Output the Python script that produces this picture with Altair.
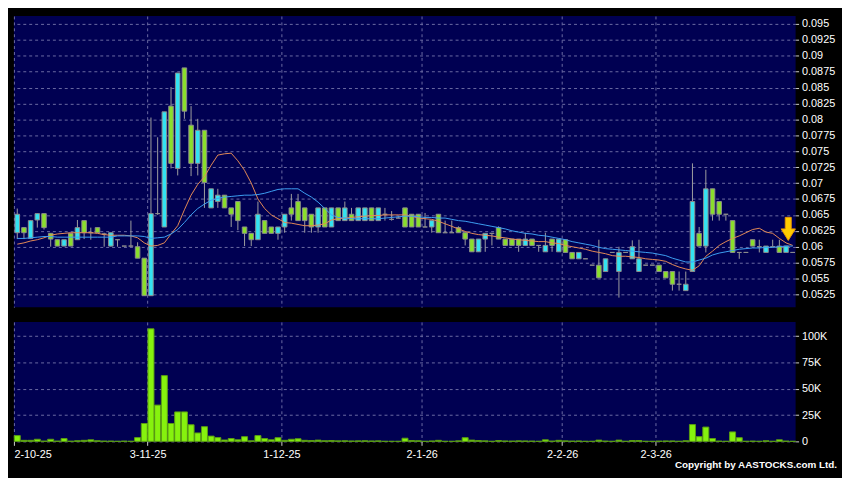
import altair as alt
import pandas as pd

# ---- candle data ----
opens = [0.0622, 0.0630, 0.0613, 0.0642, 0.0652, 0.0621, 0.0611, 0.0601, 0.0621, 0.0611,
         0.0641, 0.0622, 0.0630, 0.0620, 0.0601, 0.0611, 0.0601, 0.0601, 0.0600, 0.0582,
         0.0523, 0.0652, 0.0631, 0.0821, 0.0723, 0.0881, 0.0791, 0.0731, 0.0783, 0.0661,
         0.0671, 0.0681, 0.0661, 0.0671, 0.0631, 0.0621, 0.0611, 0.0641, 0.0631, 0.0621,
         0.0631, 0.0661, 0.0671, 0.0661, 0.0651, 0.0631, 0.0661, 0.0631, 0.0661, 0.0641,
         0.0651, 0.0641, 0.0641, 0.0661, 0.0641, 0.0651, 0.0643, 0.0645, 0.0661, 0.0651,
         0.0651, 0.0631, 0.0631, 0.0651, 0.0622, 0.0622, 0.0630, 0.0622, 0.0612, 0.0592,
         0.0612, 0.0621, 0.0630, 0.0612, 0.0612, 0.0612, 0.0602, 0.0612, 0.0602, 0.0592,
         0.0612, 0.0592, 0.0611, 0.0591, 0.0581, 0.0581, 0.0571, 0.0571, 0.0561, 0.0591,
         0.0561, 0.0591, 0.0581, 0.0561, 0.0571, 0.0571, 0.0571, 0.0561, 0.0561, 0.0541,
         0.0531, 0.0561, 0.0621, 0.0601, 0.0691, 0.0671, 0.0651, 0.0641, 0.0591, 0.0591,
         0.0611, 0.0600, 0.0591, 0.0600, 0.0601, 0.0591, 0.0591]
highs = [0.0660, 0.0631, 0.0642, 0.0652, 0.0652, 0.0621, 0.0611, 0.0611, 0.0621, 0.0642,
         0.0641, 0.0630, 0.0630, 0.0622, 0.0622, 0.0612, 0.0601, 0.0641, 0.0607, 0.0582,
         0.0803, 0.0772, 0.0812, 0.0851, 0.0873, 0.0881, 0.0821, 0.0801, 0.0783, 0.0691,
         0.0691, 0.0681, 0.0661, 0.0671, 0.0631, 0.0621, 0.0671, 0.0641, 0.0631, 0.0631,
         0.0651, 0.0683, 0.0683, 0.0661, 0.0651, 0.0661, 0.0661, 0.0661, 0.0661, 0.0671,
         0.0661, 0.0661, 0.0661, 0.0661, 0.0661, 0.0661, 0.0656, 0.0648, 0.0661, 0.0651,
         0.0651, 0.0653, 0.0641, 0.0651, 0.0641, 0.0641, 0.0632, 0.0622, 0.0612, 0.0612,
         0.0621, 0.0621, 0.0632, 0.0612, 0.0612, 0.0612, 0.0622, 0.0612, 0.0602, 0.0622,
         0.0612, 0.0612, 0.0611, 0.0591, 0.0591, 0.0581, 0.0571, 0.0611, 0.0581, 0.0591,
         0.0600, 0.0591, 0.0610, 0.0611, 0.0571, 0.0571, 0.0571, 0.0561, 0.0561, 0.0561,
         0.0561, 0.0731, 0.0631, 0.0721, 0.0691, 0.0671, 0.0651, 0.0641, 0.0591, 0.0591,
         0.0611, 0.0611, 0.0601, 0.0611, 0.0611, 0.0601, 0.0591]
lows = [0.0612, 0.0612, 0.0612, 0.0630, 0.0627, 0.0600, 0.0601, 0.0601, 0.0601, 0.0611,
        0.0612, 0.0611, 0.0622, 0.0600, 0.0600, 0.0600, 0.0601, 0.0600, 0.0582, 0.0523,
        0.0523, 0.0650, 0.0631, 0.0723, 0.0712, 0.0801, 0.0711, 0.0712, 0.0661, 0.0661,
        0.0661, 0.0661, 0.0631, 0.0626, 0.0601, 0.0601, 0.0611, 0.0621, 0.0621, 0.0611,
        0.0622, 0.0641, 0.0641, 0.0622, 0.0622, 0.0622, 0.0631, 0.0631, 0.0641, 0.0641,
        0.0641, 0.0641, 0.0641, 0.0641, 0.0641, 0.0641, 0.0641, 0.0645, 0.0631, 0.0631,
        0.0631, 0.0631, 0.0622, 0.0622, 0.0622, 0.0622, 0.0622, 0.0602, 0.0592, 0.0592,
        0.0592, 0.0602, 0.0612, 0.0602, 0.0602, 0.0592, 0.0602, 0.0602, 0.0592, 0.0592,
        0.0592, 0.0592, 0.0591, 0.0581, 0.0581, 0.0581, 0.0571, 0.0551, 0.0561, 0.0591,
        0.0520, 0.0591, 0.0581, 0.0561, 0.0571, 0.0571, 0.0561, 0.0551, 0.0531, 0.0531,
        0.0531, 0.0561, 0.0601, 0.0591, 0.0641, 0.0641, 0.0641, 0.0591, 0.0581, 0.0591,
        0.0601, 0.0591, 0.0591, 0.0600, 0.0591, 0.0591, 0.0591]
closes = [0.0651, 0.0622, 0.0641, 0.0652, 0.0630, 0.0612, 0.0601, 0.0611, 0.0601, 0.0630,
          0.0622, 0.0622, 0.0622, 0.0620, 0.0622, 0.0611, 0.0601, 0.0601, 0.0582, 0.0523,
          0.0652, 0.0652, 0.0812, 0.0731, 0.0873, 0.0813, 0.0731, 0.0783, 0.0701, 0.0691,
          0.0681, 0.0661, 0.0651, 0.0641, 0.0621, 0.0611, 0.0651, 0.0621, 0.0621, 0.0631,
          0.0651, 0.0651, 0.0641, 0.0641, 0.0631, 0.0661, 0.0631, 0.0661, 0.0641, 0.0661,
          0.0641, 0.0661, 0.0661, 0.0641, 0.0661, 0.0651, 0.0643, 0.0645, 0.0631, 0.0631,
          0.0631, 0.0631, 0.0641, 0.0622, 0.0622, 0.0622, 0.0622, 0.0612, 0.0592, 0.0612,
          0.0621, 0.0621, 0.0612, 0.0602, 0.0602, 0.0602, 0.0612, 0.0602, 0.0602, 0.0602,
          0.0602, 0.0612, 0.0591, 0.0581, 0.0591, 0.0581, 0.0571, 0.0551, 0.0581, 0.0591,
          0.0591, 0.0591, 0.0600, 0.0581, 0.0571, 0.0571, 0.0561, 0.0551, 0.0541, 0.0541,
          0.0541, 0.0671, 0.0601, 0.0691, 0.0651, 0.0651, 0.0651, 0.0591, 0.0591, 0.0591,
          0.0601, 0.0600, 0.0601, 0.0600, 0.0591, 0.0601, 0.0591]
volumes_k = [5.5, 1.0, 1.0, 2.0, 0.3, 2.0, 0.3, 2.7, 0.2, 0.6,
             1.0, 1.5, 0.6, 0.3, 0.3, 0.1, 0.3, 0.1, 3.6, 17,
             107, 34.5, 62.5, 17, 28, 28, 15.8, 8, 14, 5,
             3.6, 1.3, 2.7, 1.5, 4.5, 0.5, 5.5, 2.7, 1.5, 3.5,
             1.0, 2.0, 2.5, 1.0, 0.8, 1.2, 0.6, 0.8, 0.5, 0.6,
             0.4, 0.5, 0.6, 0.4, 0.5, 0.1, 0.1, 0.1, 3.0, 0.8,
             0.6, 0.1, 0.4, 1.0, 0.1, 0.1, 0.5, 3.5, 1.2, 0.8,
             0.5, 0.1, 0.8, 0.4, 0.3, 0.5, 0.4, 0.3, 0.1, 1.5,
             0.3, 1.0, 0.5, 0.3, 0.4, 0.1, 0.1, 1.2, 0.3, 0.1,
             1.2, 0.1, 0.8, 0.8, 0.1, 0.1, 0.3, 0.4, 0.4, 0.1,
             0.6, 16, 4.5, 13.6, 2.7, 0.3, 0.1, 9, 3.5, 0.1,
             0.3, 0.1, 0.6, 0.1, 1.5, 0.3, 0.1]
ma10 = [0.0604, 0.0606, 0.0609, 0.0611, 0.0614, 0.0618, 0.0620, 0.0621, 0.0622, 0.0622,
        0.0622, 0.0622, 0.0621, 0.0619, 0.0618, 0.0618, 0.0618, 0.0617, 0.0614, 0.0606,
        0.0601, 0.0602, 0.0606, 0.0620, 0.0633, 0.0658, 0.0681, 0.0698, 0.0710, 0.0728,
        0.0744, 0.0746, 0.0747, 0.0735, 0.0720, 0.0700, 0.0675, 0.0660, 0.0650, 0.0644,
        0.0638, 0.0637, 0.0635, 0.0633, 0.0633, 0.0634, 0.0636, 0.0642, 0.0644, 0.0645,
        0.0646, 0.0647, 0.0648, 0.0649, 0.0649, 0.0650, 0.0650, 0.0650, 0.0650, 0.0648,
        0.0645, 0.0644, 0.0643, 0.0640, 0.0636, 0.0632, 0.0628, 0.0624, 0.0621, 0.0619,
        0.0618, 0.0617, 0.0615, 0.0614, 0.0612, 0.0611, 0.0610, 0.0609, 0.0608, 0.0608,
        0.0606, 0.0605, 0.0602, 0.0600, 0.0598, 0.0596, 0.0593, 0.0591, 0.0589, 0.0586,
        0.0585, 0.0585, 0.0584, 0.0583, 0.0581, 0.0580, 0.0579, 0.0577, 0.0572, 0.0568,
        0.0565, 0.0563, 0.0570, 0.0585, 0.0593, 0.0602, 0.0608, 0.0613, 0.0617, 0.0622,
        0.0627, 0.0629, 0.0623, 0.0621, 0.0613, 0.0606, 0.0602]
ma20 = [0.0613, 0.0613, 0.0614, 0.0615, 0.0616, 0.0616, 0.0615, 0.0615, 0.0615, 0.0615,
        0.0615, 0.0615, 0.0615, 0.0615, 0.0615, 0.0617, 0.0617, 0.0617, 0.0617, 0.0616,
        0.0613, 0.0614, 0.0615, 0.0620, 0.0627, 0.0638, 0.0650, 0.0660, 0.0667, 0.0673,
        0.0676, 0.0678, 0.0679, 0.0680, 0.0681, 0.0681, 0.0682, 0.0684, 0.0687, 0.0690,
        0.0691, 0.0691, 0.0691, 0.0684, 0.0678, 0.0670, 0.0660, 0.0650, 0.0646, 0.0645,
        0.0644, 0.0644, 0.0644, 0.0644, 0.0644, 0.0645, 0.0646, 0.0647, 0.0648, 0.0648,
        0.0647, 0.0646, 0.0646, 0.0645, 0.0645, 0.0643, 0.0641, 0.0640, 0.0638, 0.0636,
        0.0634, 0.0632, 0.0630, 0.0628, 0.0625, 0.0623, 0.0621, 0.0620, 0.0618, 0.0617,
        0.0615, 0.0613, 0.0611, 0.0608, 0.0606, 0.0604, 0.0602, 0.0599, 0.0597, 0.0596,
        0.0595, 0.0594, 0.0593, 0.0592, 0.0591, 0.0590, 0.0588, 0.0586, 0.0582, 0.0579,
        0.0576, 0.0576, 0.0579, 0.0582, 0.0587, 0.0590, 0.0592, 0.0594, 0.0596, 0.0597,
        0.0598, 0.0598, 0.0599, 0.0599, 0.0600, 0.0601, 0.0601]

tick_pos = [-0.5, 19.5, 39.5, 60.5, 81.5, 95.5]
tick_labels = ["2-10-25", "3-11-25", "1-12-25", "2-1-26", "2-2-26", "2-3-26"]
price_ticks = [0.0525, 0.055, 0.0575, 0.06, 0.0625, 0.065, 0.0675, 0.07, 0.0725,
               0.075, 0.0775, 0.08, 0.0825, 0.085, 0.0875, 0.09, 0.0925, 0.095]
volume_ticks = [0, 25000, 50000, 75000, 100000]
arrow_x = [115.33]
arrow_y = [0.0628]
copyright_text = ["Copyright by AASTOCKS.com Ltd."]

n = len(opens)
df = pd.DataFrame({
    "i": list(range(n)), "open": opens, "high": highs, "low": lows, "close": closes,
    "vol": [v * 1000 for v in volumes_k], "ma10": ma10, "ma20": ma20,
})
df["dir"] = ["up" if c > o else ("down" if c < o else "flat") for o, c in zip(opens, closes)]

FONT = "Liberation Sans"
GRID = "#6c6ca4"
W = 792
xs = alt.Scale(domain=[-0.5, 116.43], nice=False, zero=False)
ys = alt.Scale(domain=[0.0505, 0.09626], nice=False, zero=False)

x_grid_axis = alt.Axis(values=tick_pos, labels=False, ticks=False, domain=False, grid=True,
                       gridColor=GRID, gridDash=[3, 3], title=None)
y_price_axis = alt.Axis(orient="right", values=price_ticks, format=".4~f", title=None, grid=True,
                        gridColor=GRID, gridDash=[3, 3], domain=False, tickColor="#d0d0d0",
                        tickSize=3, labelPadding=3, labelColor="#ffffff", labelFont=FONT,
                        labelFontSize=11)

base = alt.Chart(df)
wicks = base.mark_rule(color="#a0a0a0", strokeWidth=1).encode(
    x=alt.X("i:Q", scale=xs, axis=x_grid_axis),
    y=alt.Y("low:Q", scale=ys, axis=y_price_axis),
    y2="high:Q",
)
bodies = base.mark_rect(stroke="#8c8c8c", strokeWidth=1).transform_calculate(
    x0="datum.i - 0.34", x1="datum.i + 0.34"
).encode(
    x=alt.X("x0:Q", scale=xs, axis=x_grid_axis), x2="x1:Q",
    y=alt.Y("open:Q", scale=ys, axis=y_price_axis), y2="close:Q",
    fill=alt.Fill("dir:N", scale=alt.Scale(domain=["up", "down", "flat"],
                                           range=["#33e2f2", "#8ade2c", "#9a9a9a"]),
                  legend=None),
)
line10 = base.mark_line(color="#e58a55", strokeWidth=1).encode(
    x=alt.X("i:Q", scale=xs, axis=x_grid_axis), y=alt.Y("ma10:Q", scale=ys, axis=y_price_axis))
line20 = base.mark_line(color="#3d9ff2", strokeWidth=1).encode(
    x=alt.X("i:Q", scale=xs, axis=x_grid_axis), y=alt.Y("ma20:Q", scale=ys, axis=y_price_axis))
arrow = alt.Chart(pd.DataFrame({"x": arrow_x, "y": arrow_y})).mark_point(
    shape="M -0.26 -1 L 0.26 -1 L 0.26 0 L 0.62 0 L 0 1 L -0.62 0 L -0.26 0 Z",
    size=545, filled=True, fill="#ffcc00", stroke="#e69500", strokeWidth=1, opacity=1,
).encode(x=alt.X("x:Q", scale=xs, axis=x_grid_axis), y=alt.Y("y:Q", scale=ys, axis=y_price_axis))

top = alt.layer(wicks, bodies, line10, line20, arrow).properties(width=W, height=295)

label_expr = " : ".join(f"datum.value == {p} ? '{l}'" for p, l in zip(tick_pos, tick_labels)) + " : ''"
vs = alt.Scale(domain=[0, 113500], nice=False, zero=True)
x_vol_axis = alt.Axis(values=tick_pos, labelExpr=label_expr, grid=True, gridColor=GRID,
                      gridDash=[3, 3], domain=False, ticks=True, tickColor="#d0d0d0", tickSize=4,
                      labelPadding=3, labelColor="#ffffff", labelFont=FONT, labelFontSize=11,
                      labelFlush=True, title=None)
vol_bars = base.mark_rect(fill="#86f20e", stroke="#5a9c12", strokeWidth=1).transform_calculate(
    x0="datum.i - 0.45", x1="datum.i + 0.45"
).encode(
    x=alt.X("x0:Q", scale=xs, axis=x_vol_axis),
    x2="x1:Q",
    y=alt.Y("vol:Q", scale=vs, axis=alt.Axis(
        orient="right", values=volume_ticks,
        labelExpr="datum.value == 0 ? '0' : format(datum.value / 1000, 'd') + 'K'",
        title=None, grid=True, gridColor=GRID, gridDash=[3, 3], domain=False,
        tickColor="#d0d0d0", tickSize=3, labelPadding=3, labelColor="#ffffff",
        labelFont=FONT, labelFontSize=11)),
)
copyright_mark = alt.Chart(pd.DataFrame({"t": copyright_text})).mark_text(
    align="right", baseline="middle", font=FONT, fontSize=10, fontWeight="bold", color="#ffffff"
).encode(x=alt.value(834), y=alt.value(145), text="t:N")

bottom = alt.layer(vol_bars, copyright_mark).properties(width=W, height=121)

chart = alt.vconcat(top, bottom, spacing=15).properties(
    background="#000000",
).configure_view(fill="#000052", stroke=None)

chart.save("out.html", embed_options={"renderer": "svg", "actions": False})
